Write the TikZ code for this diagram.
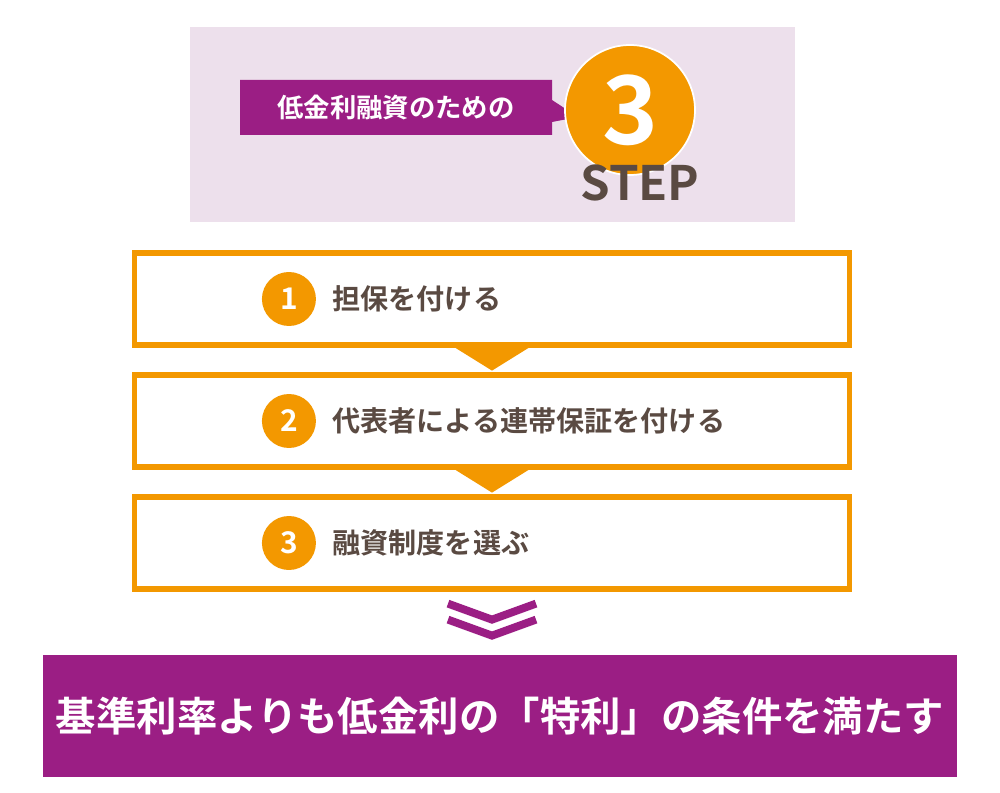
\documentclass[tikz,border=0pt]{standalone}
\usepackage{fontspec}
\setmainfont{Noto Sans CJK JP}[BoldFont={* Bold}]
\usetikzlibrary{positioning, calc}
\definecolor{plum}{RGB}{155,30,132}
\definecolor{paleplum}{RGB}{237,224,236}
\definecolor{stepor}{RGB}{243,152,0}
\definecolor{brownish}{RGB}{90,74,66}
\tikzset{
  stepbox/.style={draw=stepor, line width=3pt, fill=white, minimum width=14.3cm, minimum height=1.84cm},
  numdot/.style={circle, fill=stepor, minimum size=1.08cm, text=white, font=\fontsize{17}{17}\selectfont\bfseries},
  steptext/.style={anchor=west, text=brownish, font=\fontsize{16}{16}\selectfont\bfseries},
  pointer/.style={fill=stepor, draw=none}
}
\begin{document}
\begin{tikzpicture}[x=0.02cm, y=-0.02cm]
  \useasboundingbox (0,0) rectangle (1000,793);
  % header panel
  \fill[paleplum] (190,27) rectangle (795,222);
  \fill[plum] (240,80) -- (552,80) -- (552,100) -- (578,117) -- (552,122) -- (552,135) -- (240,135) -- cycle;
  \node[text=white, font=\fontsize{15}{15}\selectfont\bfseries] (lead) at (396,107) {低金利融資のための};
  \node[circle, fill=stepor, draw=white, line width=1pt, minimum size=2.6cm] (big) at (630,110) {};
  \node[text=white, font=\fontsize{54}{54}\selectfont\bfseries] (three) at (big) {3};
  \node[text=brownish, font=\fontsize{27}{27}\selectfont\bfseries] (steplbl) at (640,183) {STEP};

  % steps
  \node[stepbox] (s1) at (492,299) {};
  \node[stepbox] (s2) at (492,421) {};
  \node[stepbox] (s3) at (492,543) {};
  \foreach \i/\t in {1/担保を付ける, 2/代表者による連帯保証を付ける, 3/融資制度を選ぶ} {
    \node[numdot] (n\i) at ($(s\i.west)+(157,0)$) {\i};
    \node[steptext, right=0.2cm of n\i] (t\i) {\t};
  }
  % pointers between steps
  \fill[stepor] ($(s1.south)+(-37,0)$) -- ($(s1.south)+(37,0)$) -- ($(s1.south)+(0,23)$) -- cycle;
  \fill[stepor] ($(s2.south)+(-37,0)$) -- ($(s2.south)+(37,0)$) -- ($(s2.south)+(0,23)$) -- cycle;

  % chevrons
  \foreach \dy in {0,16} {
    \draw[plum, line width=4.5pt] ($(s3.south)+(-44,12+\dy)$) -- ($(s3.south)+(0,28+\dy)$) -- ($(s3.south)+(44,12+\dy)$);
  }

  % result
  \node[fill=plum, minimum width=18.28cm, minimum height=2.44cm, text=white,
        font=\fontsize{23}{23}\selectfont\bfseries] (goal) at (500,716) {基準利率よりも低金利の「特利」の条件を満たす};
\end{tikzpicture}
\end{document}
